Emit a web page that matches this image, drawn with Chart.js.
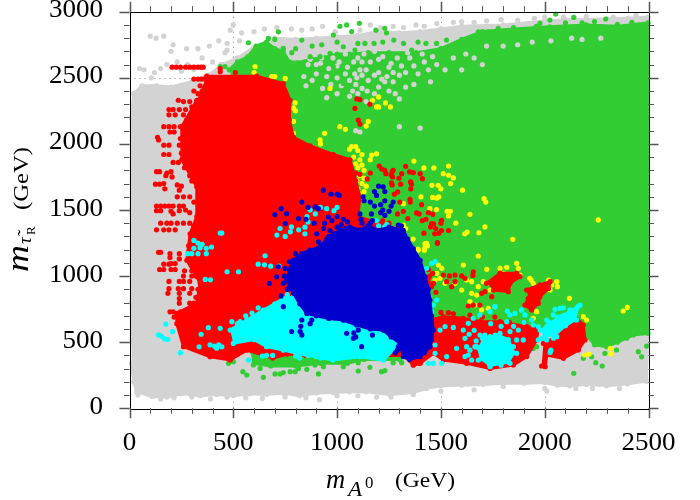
<!DOCTYPE html>
<html>
<head>
<meta charset="utf-8">
<style>
  html, body { margin: 0; padding: 0; background: #fff; }
  canvas { display: block; }
</style>
<script src="https://cdn.jsdelivr.net/npm/chart.js@4"></script>
</head>
<body>
<canvas id="scan" width="700" height="500"></canvas>
<script>
const xTickLabels = ["0", "500", "1000", "1500", "2000", "2500"];
const yTickLabels = ["0", "500", "1000", "1500", "2000", "2500", "3000"];

// dense areas are outlines, loose dots are listed one by one
const grayArea = [[10,340],[20,200],[35,125],[110,90],[180,85],[250,110],[340,95],[420,105],[500,95],[580,110],[660,105],[740,115],[820,95],[900,115],[980,120],[1060,125],[1140,125],[1254,105],[1367,120],[1430,150],[1500,170],[1600,175],[1704,180],[1800,190],[1900,190],[2000,195],[2060,175],[2121,170],[2200,180],[2298,170],[2400,185],[2490,205],[2498,700],[2498,2960],[2400,2950],[2300,2945],[2100,2940],[2000,2930],[1800,2900],[1600,2890],[1500,2870],[1400,2850],[1300,2840],[1200,2850],[1100,2820],[1000,2810],[900,2800],[800,2790],[700,2800],[600,2730],[520,2650],[450,2600],[380,2520],[300,2470],[200,2430],[130,2440],[60,2440],[20,2380],[8,2200],[8,1500],[8,800],[10,500]];
const grayDots = [[100,2815],[165,2815],[128,2800],[48,2570],[70,2560],[105,2500],[150,2570],[200,2700],[210,2750],[275,2720],[330,2720],[350,2650],[400,2620],[430,2780],[385,2740],[440,2600],[470,2710],[500,2900],[485,2860],[530,2780],[470,2760],[460,2690],[120,2540],[180,2600],[230,2620],[280,2600],[310,2560],[250,2550],[540,2840],[600,2850],[650,2870],[710,2880],[780,2870],[830,2860],[880,2870],[930,2890],[990,2850],[1110,2860],[1160,2900],[1210,2880],[1270,2890],[1320,2880],[1380,2900],[1420,2890],[1480,2910],[1560,2920],[1600,2925],[1660,2920],[1720,2930],[1790,2940],[1870,2935],[1950,2950],[2000,2960],[2090,2960],[2200,2965],[2330,2960],[2440,2975],[60,150],[40,100],[95,110],[150,70],[215,80],[300,85],[390,70],[470,85],[560,80],[640,75],[750,85],[850,80],[915,65],[1000,95],[1100,95],[1190,85],[1260,85],[1367,105],[1500,130],[1660,140],[1800,165],[2000,150],[2010,130],[2150,150],[2230,150],[2360,150]];
const grayHoles = [[1090,2450],[1075,2400],[1085,2530],[1110,2560],[1150,2480],[1230,2470],[1240,2510],[1270,2540],[1300,2520],[1330,2430],[1250,2400],[1180,2380],[1280,2380],[1120,2620],[1200,2640],[1260,2610],[1310,2590],[1370,2590],[1420,2620],[1480,2600],[1560,2650],[1620,2680],[1660,2650],[1720,2740],[1800,2740],[1870,2750],[1940,2770],[2030,2780],[2130,2800],[2180,2790],[2270,2800],[925,2650],[900,2530],[950,2510],[1000,2500],[1040,2530],[980,2650],[1010,2620],[860,2600],[840,2510],[820,2650],[880,2680],[950,2690],[1040,2680],[1100,2650],[1160,2620],[1220,2660],[1290,2650],[1350,2650],[1410,2680],[1460,2660],[1060,2480],[1020,2440],[970,2450],[930,2420],[880,2480],[850,2440],[900,2600],[960,2570],[1050,2580],[1140,2560],[1200,2540],[1330,2540],[1390,2530],[1440,2560],[1120,2420],[1200,2430],[1060,2360],[1000,2380],[950,2350],[1140,2320],[1300,2340],[1370,2450],[1450,2470],[1520,2560],[1600,2560],[1700,2600],[1090,2100],[1110,2090],[1300,2130],[1400,2120],[840,2700],[870,2640],[920,2610],[1000,2590],[1080,2620],[1130,2680],[1180,2700],[1250,2580],[1340,2690],[1095,2500],[1120,2520],[1180,2520],[1215,2490],[1270,2470],[1100,2380],[1145,2400]];

const greenArea = [[480,2560],[520,2620],[570,2660],[610,2740],[660,2770],[700,2720],[740,2700],[770,2620],[820,2620],[880,2640],[950,2660],[1000,2680],[1060,2680],[1150,2690],[1250,2690],[1380,2690],[1500,2720],[1600,2790],[1700,2850],[1850,2870],[2024,2886],[2200,2900],[2350,2890],[2498,2915],[2498,567],[2426,554],[2350,500],[2298,466],[2240,480],[2210,540],[2180,600],[1800,600],[1400,700],[1000,1200],[600,2000]];
const greenBand = [[590,430],[600,340],[680,320],[800,320],[920,340],[1050,340],[1130,370],[1300,370],[1300,430],[1050,430],[800,430]];
const greenDots = [[573,2765],[717,2848],[669,2798],[700,2790],[830,2785],[782,2690],[741,2722],[926,2750],[982,2823],[918,2660],[966,2685],[1030,2735],[1054,2620],[870,2660],[806,2610],[774,2560],[838,2585],[982,2585],[910,2482],[998,2545],[1030,2457],[437,2585],[460,2585],[1014,2890],[1046,2900],[1107,2912],[1070,2850],[1187,2860],[1230,2875],[1238,2840],[1273,2785],[1178,2760],[1134,2760],[1086,2710],[1359,2710],[1428,2760],[1479,2760],[1527,2785],[1595,2773],[1632,2798],[1680,2848],[1728,2848],[1776,2874],[1920,2861],[1977,2912],[2025,2937],[2053,2982],[2140,2957],[2294,2944],[1850,2880],[1960,2890],[2100,2915],[2180,2915],[2240,2925],[2350,2905],[2420,2920],[800,2720],[880,2740],[1000,2770],[1100,2760],[1220,2770],[1320,2760],[1390,2770],[477,340],[500,353],[546,277],[565,252],[597,328],[645,234],[629,302],[701,260],[725,260],[741,270],[774,277],[798,277],[814,302],[854,295],[910,260],[894,328],[934,315],[1030,315],[1102,282],[1158,310],[1214,277],[1230,285],[1102,345],[1270,345],[1311,345],[2140,265],[2246,345],[2277,320],[2467,390],[2451,428],[2491,471],[2186,378],[2226,390],[2290,416],[2346,441],[2362,517],[2395,530],[1945,453],[1961,466]];

const yellowDots = [[966,2420],[605,2585],[600,2540],[685,2510],[700,2510],[750,2495],[500,2500],[798,2310],[790,2270],[800,2250],[775,2080],[790,2080],[790,2170],[918,2030],[920,2000],[940,2080],[1013,2130],[1040,2110],[822,1850],[850,1860],[845,1840],[1070,1980],[1090,1980],[1100,1950],[1080,1900],[1110,1880],[1100,1820],[1130,1800],[1110,1760],[1130,1740],[1120,1700],[1080,1700],[1100,1660],[1130,1640],[1090,1620],[1060,1960],[1120,1920],[1090,1850],[1120,1840],[1060,1850],[1095,1720],[1140,1680],[1110,1620],[1166,1915],[1190,1925],[1160,1880],[1370,1870],[1418,1818],[1466,1818],[1537,1833],[1511,1775],[1537,1763],[1560,1743],[1547,1700],[1457,1687],[1487,1687],[1500,1660],[1604,1650],[1404,1600],[1460,1595],[1480,1590],[1490,1600],[1708,1586],[1716,1560],[1447,1510],[1479,1503],[1530,1490],[1545,1490],[1537,1455],[1640,1467],[1572,1400],[1712,1372],[1626,1333],[1615,1320],[1683,1328],[1846,1278],[2258,1425],[1423,1245],[1435,1230],[1422,1210],[1420,1195],[1366,1280],[1390,1205],[1320,1385],[1330,1360],[1171,2330],[1200,2355],[1190,2280],[1200,2280],[1233,2310],[1257,2280],[1150,2170],[1140,2135],[1319,1548],[1431,1248],[1391,1197],[1680,1152],[1608,1084],[1721,1051],[1817,1066],[1865,1097],[1873,1059],[1881,1008],[1945,945],[2018,970],[2034,933],[2026,895],[2058,958],[2061,920],[2119,832],[1488,1084],[1504,1059],[1480,1021],[1472,970],[1496,983],[1520,945],[1568,945],[1600,895],[1624,970],[1648,958],[1680,920],[1704,958],[1785,1059],[1801,1021],[1729,945],[1737,895],[1648,870],[1672,857],[1640,807],[1664,781],[1696,744],[1728,756],[1937,769],[1961,731],[1945,681],[2186,693],[2202,668],[2178,630],[2193,403],[2214,410],[2316,454],[2319,411],[2378,736],[2398,763],[1928,983],[1935,970]];

const redArea = [[372,2512],[613,2512],[741,2457],[773,2330],[770,2180],[790,2050],[870,1985],[982,1920],[1062,1880],[1090,1720],[1110,1600],[1100,1450],[1200,1400],[1300,1350],[1400,1000],[1400,340],[1367,328],[1320,400],[1060,400],[850,400],[760,410],[690,380],[565,440],[485,365],[388,390],[260,466],[228,640],[228,718],[324,795],[340,950],[276,1120],[292,1320],[324,1450],[324,1675],[252,1880],[252,2130],[324,2330]];
const redBlobA = [[1448,668],[1512,693],[1608,681],[1688,655],[1785,655],[1913,618],[1969,605],[1961,517],[1913,391],[1849,328],[1737,302],[1624,340],[1512,365],[1464,416],[1399,340],[1367,328],[1400,480]];
const redBlobB = [[1994,491],[2058,542],[2106,605],[2138,706],[2186,630],[2194,517],[2162,441],[2090,378],[2010,403],[2002,315],[1985,320]];
const redBlobC = [[1913,895],[1977,933],[2026,958],[2018,907],[1977,844],[1969,794],[1937,744],[1905,781],[1921,832]];
const redBlobD = [[1720,945],[1785,1021],[1865,1021],[1881,996],[1833,945],[1825,882],[1753,895]];
const redDots = [[205,2580],[225,2580],[245,2580],[270,2580],[290,2580],[310,2580],[330,2580],[345,2580],[355,2580],[437,2570],[437,2545],[510,2540],[310,2490],[330,2490],[345,2490],[360,2490],[310,2400],[330,2380],[350,2400],[380,2400],[400,2380],[235,2330],[260,2320],[290,2320],[190,2260],[210,2260],[240,2260],[270,2260],[190,2220],[220,2220],[260,2220],[165,2130],[190,2130],[215,2130],[245,2130],[195,2090],[215,2090],[135,2050],[140,2030],[165,1990],[190,1990],[240,1990],[265,2000],[165,1920],[190,1920],[250,1930],[210,1860],[235,1860],[130,1790],[145,1790],[180,1780],[200,1790],[175,1760],[205,1750],[125,1695],[145,1695],[165,1700],[230,1690],[250,1680],[170,1660],[240,1650],[230,1600],[260,1600],[290,1600],[130,1530],[150,1530],[170,1530],[190,1530],[210,1530],[240,1530],[260,1530],[130,1495],[150,1495],[200,1490],[210,1470],[240,1495],[270,1500],[150,1400],[180,1400],[200,1400],[230,1400],[260,1400],[290,1400],[130,1350],[165,1350],[190,1350],[220,1350],[140,1180],[150,1180],[195,1170],[240,1170],[195,1140],[240,1130],[165,1090],[190,1090],[200,1095],[220,1095],[145,1050],[165,1050],[200,1050],[220,1050],[265,1040],[300,1040],[260,1000],[300,1000],[320,1000],[190,960],[240,960],[260,960],[290,960],[190,905],[235,905],[260,905],[300,905],[185,870],[240,870],[290,870],[240,830],[240,795],[290,795],[310,795],[195,730],[210,730],[245,730],[270,740],[215,690],[240,690],[280,530],[285,470],[300,470],[320,450],[300,490],[310,2250],[340,2440],[300,2280],[275,2180],[265,2080],[245,2040],[265,1820],[290,1760],[300,1720],[310,1560],[290,1480],[310,1380],[295,1290],[285,1230],[285,1180],[310,1060],[330,900],[320,840],[270,700],[250,600],[260,560],[320,540],[290,520],[1110,2335],[1095,2340],[1086,2268],[1158,2300],[1102,2180],[1110,2150],[1203,1833],[1215,1810],[1230,1800],[1235,1775],[1260,1765],[1265,1790],[1270,1800],[1267,1750],[1298,1740],[1306,1695],[1262,1705],[1265,1690],[1311,1775],[1349,1788],[1367,1783],[1400,1775],[1411,1737],[1330,1830],[1354,1712],[1358,1695],[1355,1660],[1292,1637],[1276,1620],[1351,1580],[1352,1560],[1407,1540],[1302,1560],[1291,1470],[1319,1490],[1383,1478],[1395,1470],[1440,1480],[1461,1467],[1428,1430],[1410,1420],[1340,1435],[1455,1397],[1465,1395],[1503,1422],[1500,1400],[1450,1372],[1475,1360],[1503,1345],[1537,1345],[1490,1325],[1470,1320],[1418,1325],[1483,1248],[1070,1800],[1090,1780],[1110,1770],[1070,1740],[1145,1735],[1160,1780],[1180,1400],[1220,1420],[1250,1400],[1483,1253],[1656,1033],[1654,1005],[1512,1008],[1541,1001],[1568,1008],[1600,1001],[1616,983],[1552,920],[1528,958],[1568,958],[1464,945],[1440,983],[1455,920],[1476,877],[1656,781],[1632,774],[1688,781],[1536,723],[1696,870],[1712,882],[1745,844],[1785,1021],[1440,1050],[1445,1000],[1460,1020],[1440,950],[1500,725],[1560,715],[1640,705],[1700,690],[1760,690],[1830,650],[1900,650]];

const cyanArea = [[485,592],[565,668],[645,743],[700,790],[741,832],[790,844],[854,760],[1062,680],[1222,620],[1303,491],[1222,365],[1111,390],[980,365],[820,410],[741,440],[660,466],[600,520],[500,491]];
const cyanBlobA = [[1700,530],[1780,550],[1825,520],[1850,420],[1825,350],[1737,325],[1695,375],[1680,460]];
const cyanBlobB = [[2060,690],[2122,730],[2160,770],[2145,670],[2100,625],[2050,560],[2000,545],[1990,590],[2020,650]];
const cyanDots = [[437,1326],[445,1326],[310,1270],[330,1250],[370,1210],[350,1240],[395,1220],[310,1210],[340,1215],[280,1170],[300,1170],[330,1170],[370,1170],[653,1154],[620,1090],[650,1085],[680,1075],[720,1075],[470,1033],[525,1033],[365,975],[390,972],[175,637],[207,580],[140,555],[155,545],[170,525],[185,520],[245,420],[335,465],[345,560],[380,610],[437,605],[493,655],[533,655],[388,480],[410,470],[430,480],[420,455],[445,465],[573,365],[710,1310],[750,1300],[725,1360],[780,1372],[775,1335],[815,1350],[845,1370],[845,1320],[870,1500],[895,1470],[920,1520],[950,1510],[1000,1520],[985,1495],[855,1450],[860,1410],[1190,1420],[1200,1380],[1230,1375],[1240,1390],[640,395],[660,400],[690,400],[800,395],[820,380],[860,400],[900,390],[920,380],[980,370],[1000,380],[1030,390],[840,430],[805,440],[760,860],[790,870],[620,760],[590,720],[560,700],[520,640],[1431,1059],[1456,1097],[1472,1109],[1480,819],[1464,781],[1456,731],[1737,731],[1761,769],[1688,706],[1656,681],[1632,643],[1608,592],[1560,612],[1520,618],[1496,592],[1616,529],[1576,454],[1624,466],[1472,479],[1472,416],[1440,340],[1464,340],[1504,340],[1528,391],[1616,391],[1648,365],[1632,403],[1664,466],[1636,560],[1660,590],[1640,440],[1688,554],[1712,554],[1737,542],[1761,554],[1785,567],[1833,580],[1817,491],[1849,466],[1865,416],[1865,517],[1897,517],[1680,365],[1670,510],[1672,466],[1833,340],[1737,315],[1790,325],[1833,706],[1857,718],[1889,744],[1905,706],[1945,630],[1969,618],[1873,592],[1817,655],[1937,668],[1790,620],[1740,640],[1900,650],[1850,620],[1760,769],[1888,743],[1820,735],[2050,749],[2074,756],[2170,781],[2122,744],[2090,760],[2154,668],[2058,542],[2042,706],[2010,668],[1986,529],[1978,592],[1969,517],[2010,517],[2042,530],[2026,423],[2030,440]];

const blueArea = [[1062,1371],[1110,1350],[1150,1380],[1200,1345],[1250,1370],[1319,1346],[1340,1280],[1367,1207],[1400,1120],[1423,995],[1440,900],[1447,819],[1455,700],[1463,592],[1455,520],[1447,466],[1420,420],[1399,390],[1350,370],[1319,390],[1303,491],[1260,540],[1222,592],[1160,600],[1094,630],[1030,668],[960,680],[900,700],[854,718],[820,790],[790,870],[770,920],[757,970],[770,1050],[790,1120],[830,1170],[870,1197],[918,1220],[950,1280],[982,1320],[1020,1350]];
const blueDots = [[700,1465],[757,1472],[750,1397],[730,1510],[830,1560],[860,1520],[934,1650],[970,1620],[1000,1620],[1010,1610],[814,1435],[850,1430],[890,1400],[894,1523],[910,1510],[958,1447],[1000,1450],[1030,1430],[902,1320],[910,1260],[920,1230],[966,1345],[990,1310],[1040,1360],[1060,1330],[940,1400],[975,1420],[1020,1390],[1050,1410],[1000,1370],[960,1300],[935,1360],[1222,1675],[1200,1680],[1180,1640],[1190,1610],[1230,1640],[1270,1560],[1260,1530],[1230,1570],[1210,1540],[1180,1530],[1160,1560],[1220,1500],[1210,1480],[1230,1460],[1250,1490],[1125,1600],[1130,1570],[1110,1470],[1115,1430],[1120,1400],[1165,1470],[1170,1420],[1160,1400],[1150,1380],[1295,1385],[1310,1380],[674,945],[709,995],[717,1070],[750,1058],[741,769],[781,580],[830,668],[825,620],[822,580],[830,555],[878,668],[870,640],[1030,668],[1046,567],[741,945],[730,850],[760,900],[745,1000],[770,1110],[800,1170],[1102,592],[1080,570],[1090,540],[1078,529],[1118,466],[1170,554],[1295,466],[1290,440],[1280,420],[1330,415],[1320,395],[1365,390],[1395,403]];

function toPoints(pairs) {
  return pairs.map(p => ({ x: p[0], y: p[1] }));
}

// one dataset of loose dots
function dots(pairs, color) {
  return { data: toPoints(pairs), backgroundColor: color, borderColor: color, pointRadius: 2.6, pointBorderWidth: 0, showLine: false, clip: false };
}

// one closed dense area
function area(pairs, color) {
  return { data: toPoints(pairs), backgroundColor: color, borderColor: color, borderWidth: 3, pointRadius: 2.6, pointBorderWidth: 0, showLine: true, fill: "shape", tension: 0, clip: false };
}

const GRAY = "#d3d3d3", GREEN = "#32cd32", YELLOW = "#ffff00", RED = "#ff0000", CYAN = "#00ffff", BLUE = "#0000cd";

// text is a bit wider than the font, so it is stretched by hand
function putText(ctx, str, x, y, font, stretch, angle, align) {
  ctx.save();
  ctx.translate(x, y);
  if (angle) ctx.rotate(angle);
  ctx.scale(stretch, 1);
  ctx.font = font;
  ctx.textAlign = align || "left";
  ctx.textBaseline = "alphabetic";
  ctx.fillStyle = "#000";
  ctx.fillText(str, 0, 0);
  ctx.restore();
}

const gridBehind = {
  id: "gridBehind",
  beforeDatasetsDraw(chart) {
    const { ctx, chartArea: a, scales } = chart;
    ctx.save();
    ctx.strokeStyle = "#808080";
    ctx.lineWidth = 1;
    ctx.setLineDash([1, 4]);
    ctx.beginPath();
    xTickLabels.slice(1, -1).forEach(v => {
      const px = Math.round(scales.x.getPixelForValue(+v)) + 0.5;
      ctx.moveTo(px, a.top);
      ctx.lineTo(px, a.bottom);
    });
    yTickLabels.slice(1, -1).forEach(v => {
      const py = Math.round(scales.y.getPixelForValue(+v)) + 0.5;
      ctx.moveTo(a.left, py);
      ctx.lineTo(a.right, py);
    });
    ctx.stroke();
    ctx.restore();
  }
};

const frameAndText = {
  id: "frameAndText",
  afterDatasetsDraw(chart) {
    const { ctx, chartArea: a, scales } = chart;
    ctx.save();
    ctx.strokeStyle = "#000";
    ctx.lineWidth = 1;
    ctx.strokeRect(Math.round(a.left) + 0.5, Math.round(a.top) + 0.5, Math.round(a.right - a.left), Math.round(a.bottom - a.top));

    // ticks stick out on all four sides
    ctx.strokeStyle = "#555";
    scales.x.ticks.forEach(t => {
      const major = t.value % 500 === 0;
      const len = major ? 10 : 5.5;
      const px = Math.round(scales.x.getPixelForValue(t.value)) + 0.5;
      ctx.lineWidth = major ? 1.5 : 1;
      ctx.beginPath();
      ctx.moveTo(px, a.top - len);
      ctx.lineTo(px, a.top);
      ctx.moveTo(px, a.bottom);
      ctx.lineTo(px, a.bottom + len);
      ctx.stroke();
    });
    scales.y.ticks.forEach(t => {
      const major = t.value % 500 === 0;
      const len = major ? 10 : 5.5;
      const py = Math.round(scales.y.getPixelForValue(t.value)) + 0.5;
      ctx.lineWidth = major ? 1.5 : 1;
      ctx.beginPath();
      ctx.moveTo(a.left - len, py);
      ctx.lineTo(a.left, py);
      ctx.moveTo(a.right, py);
      ctx.lineTo(a.right + len, py);
      ctx.stroke();
    });
    ctx.restore();

    const tickFont = "26px 'Liberation Serif'";
    xTickLabels.forEach(v => {
      putText(ctx, v, scales.x.getPixelForValue(+v), 449.5, tickFont, 1.04, 0, "center");
    });
    yTickLabels.forEach(v => {
      putText(ctx, v, 103, scales.y.getPixelForValue(+v) + 5.5, tickFont, 1.04, 0, "right");
    });

    // x axis title
    putText(ctx, "m", 326, 488, "italic 28px 'Liberation Serif'", 0.95, 0);
    putText(ctx, "A", 348, 496, "italic 22px 'Liberation Serif'", 1.05, 0);
    putText(ctx, "0", 365, 488, "16px 'Liberation Serif'", 1.05, 0);
    putText(ctx, "(GeV)", 395, 487, "22px 'Liberation Serif'", 1.07, 0);

    // y axis title
    const up = -Math.PI / 2;
    putText(ctx, "m", 28, 272, "italic 32px 'Liberation Serif'", 1.17, up);
    putText(ctx, "τ̃", 31, 244, "italic 19px 'Liberation Serif'", 1, up);
    putText(ctx, "R", 35, 235, "12px 'Liberation Serif'", 1.1, up);
    putText(ctx, "(GeV)", 28, 210, "22px 'Liberation Serif'", 1.12, up);
  }
};

// Chart.js paints the first dataset last, so the list runs from top layer to bottom layer
new Chart(document.getElementById("scan"), {
  type: "scatter",
  data: {
    datasets: [
      dots(blueDots, BLUE),
      area(blueArea, BLUE),
      dots(cyanDots, CYAN),
      area(cyanBlobB, CYAN),
      area(cyanBlobA, CYAN),
      area(cyanArea, CYAN),
      dots(redDots, RED),
      area(redBlobD, RED),
      area(redBlobC, RED),
      area(redBlobB, RED),
      area(redBlobA, RED),
      area(redArea, RED),
      dots(yellowDots, YELLOW),
      dots(greenDots, GREEN),
      area(greenBand, GREEN),
      dots(grayHoles, GRAY),
      area(greenArea, GREEN),
      dots(grayDots, GRAY),
      area(grayArea, GRAY)
    ]
  },
  options: {
    responsive: false,
    animation: false,
    layout: { padding: { left: 129.5, top: 11.7, right: 51.5, bottom: 91.7 } },
    plugins: { legend: { display: false }, tooltip: { enabled: false } },
    scales: {
      x: {
        type: "linear", min: 0, max: 2500,
        ticks: { display: false, stepSize: 100, autoSkip: false },
        grid: { display: false, drawTicks: false },
        border: { display: false }
      },
      y: {
        type: "linear", min: 0, max: 3000,
        ticks: { display: false, stepSize: 100, autoSkip: false },
        grid: { display: false, drawTicks: false },
        border: { display: false }
      }
    }
  },
  plugins: [gridBehind, frameAndText]
});
</script>
</body>
</html>
